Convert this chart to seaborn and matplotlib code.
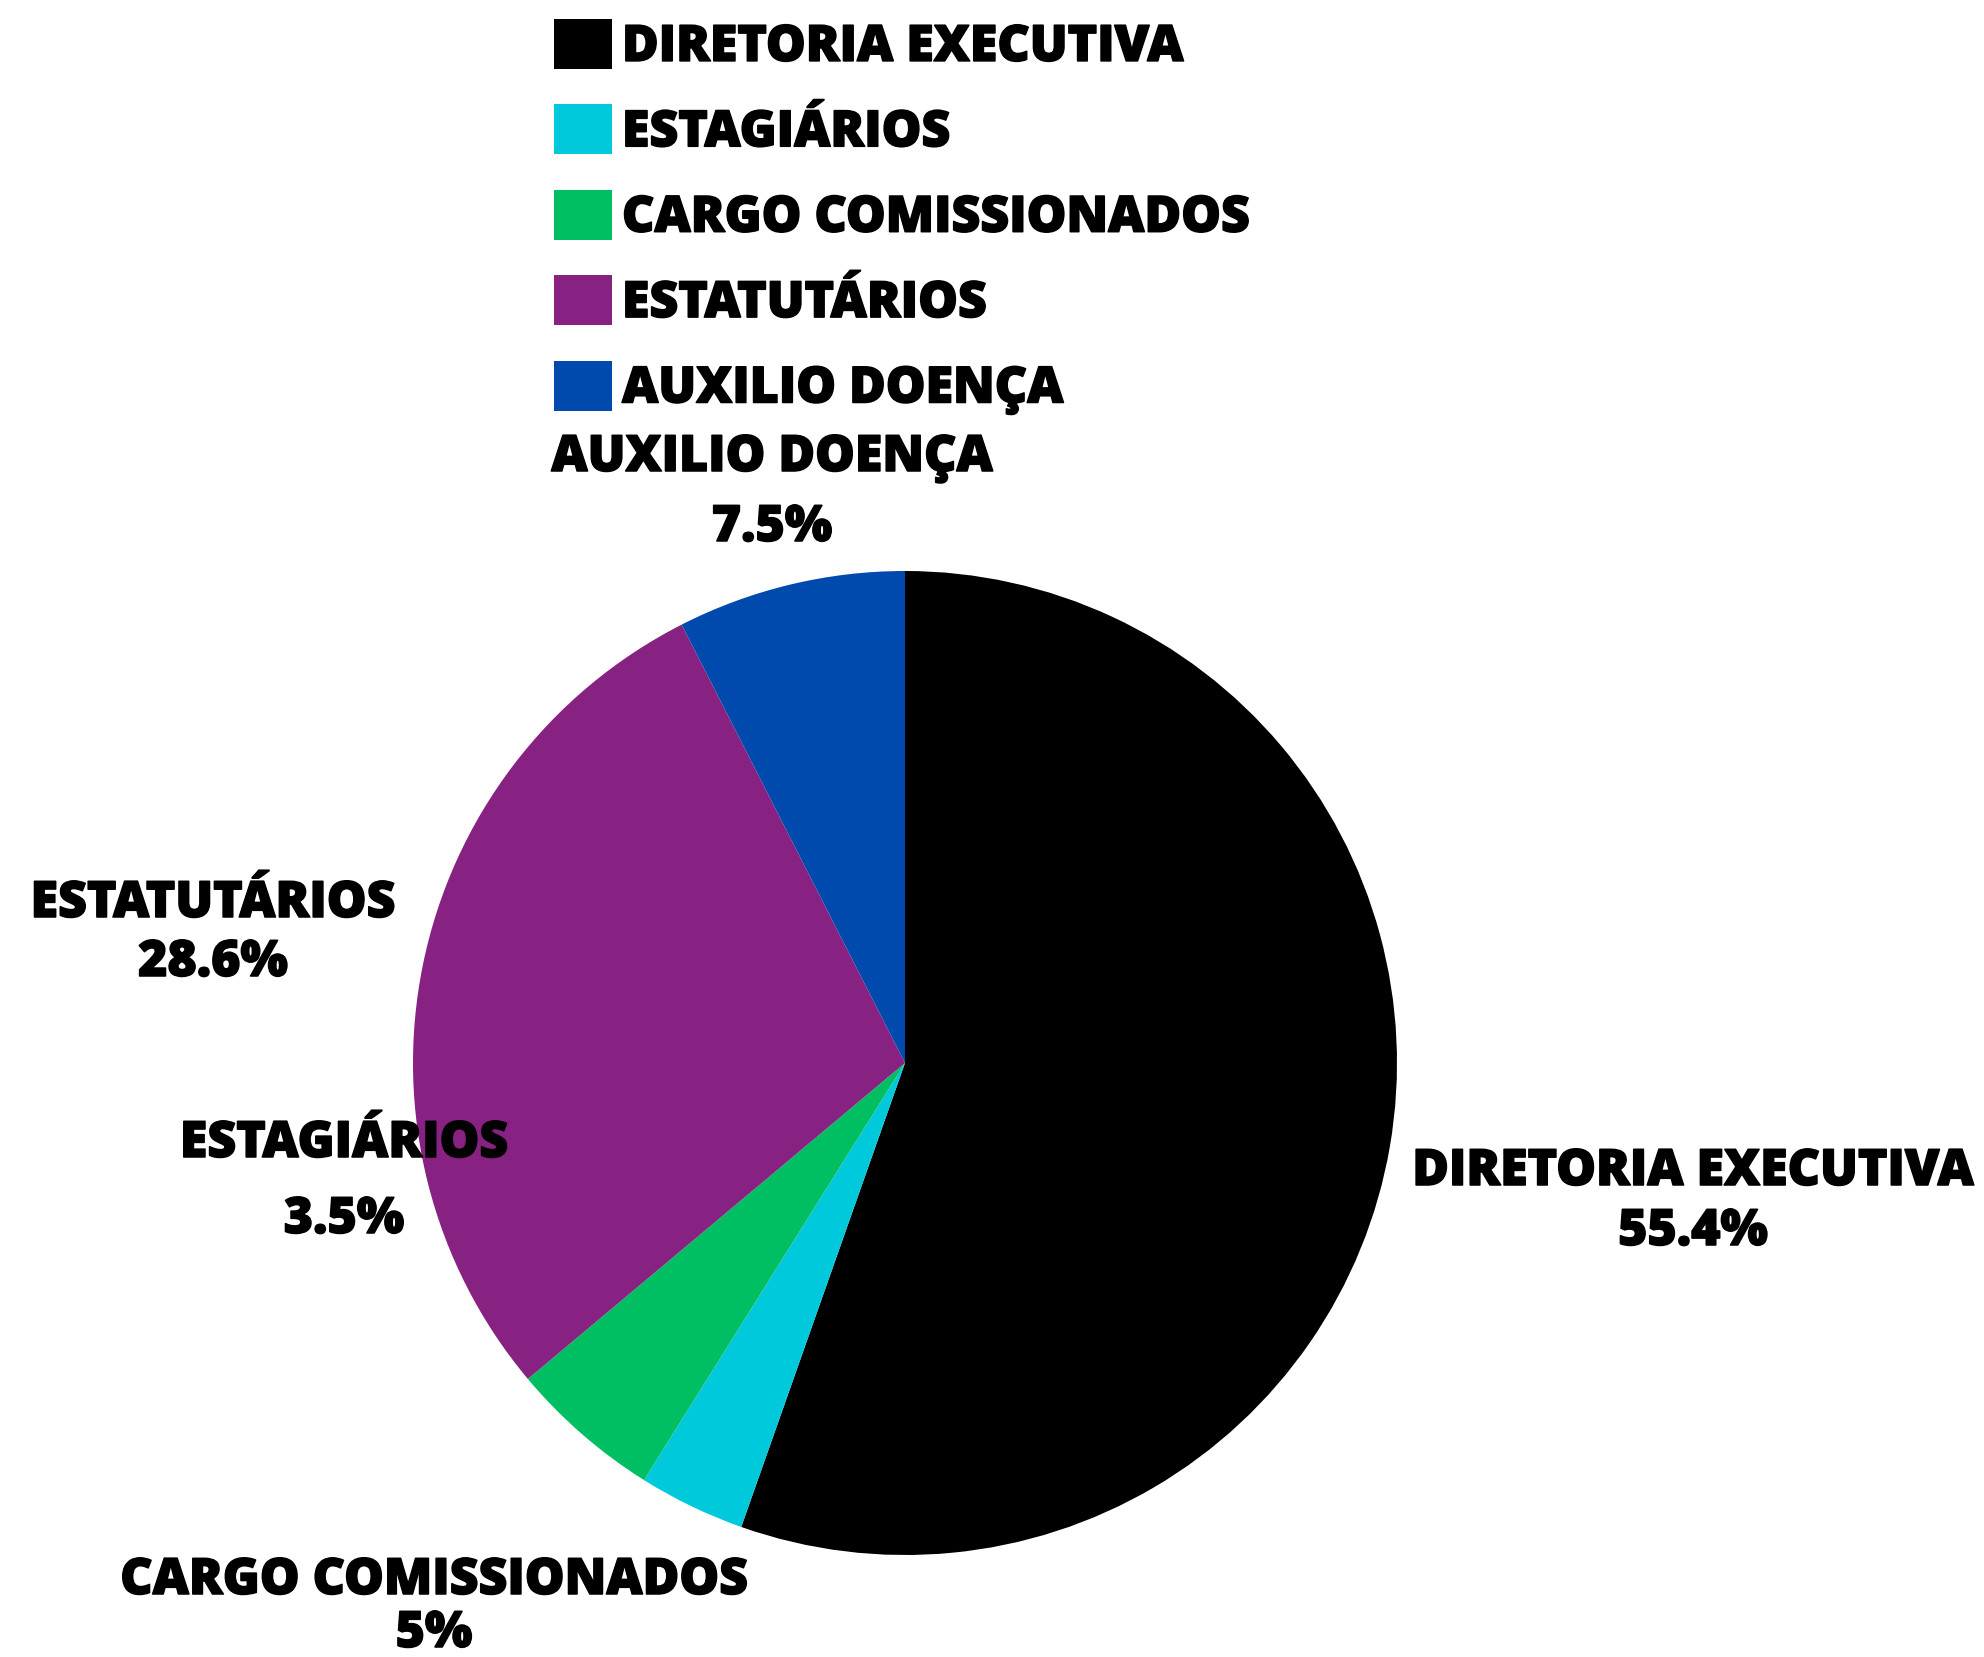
import matplotlib
matplotlib.use("Agg")
import matplotlib.pyplot as plt
import matplotlib.patheffects as pe
from matplotlib.patches import Patch
import seaborn as sns

# data
categorias = ["DIRETORIA EXECUTIVA", "ESTAGIÁRIOS", "CARGO COMISSIONADOS",
              "ESTATUTÁRIOS", "AUXILIO DOENÇA"]
valores = [55.4, 3.5, 5, 28.6, 7.5]
rotulos_pct = ["55.4%", "3.5%", "5%", "28.6%", "7.5%"]
cores = ["#000000", "#00C9DC", "#00BF63", "#872282", "#004AAD"]

sns.set_theme(style="white")
plt.rcParams["font.family"] = ["Open Sans", "DejaVu Sans"]
plt.rcParams["font.weight"] = "heavy"
plt.rcParams["text.color"] = "black"

W, H = 1984, 1657
fig = plt.figure(figsize=(W / 100, H / 100), dpi=100)

# pie axes, center (905, 1063) px, radius 492 px
cx, cy, r = 905, 1063, 492
ax = fig.add_axes([(cx - r) / W, (H - cy - r) / H, 2 * r / W, 2 * r / H])
pal = sns.color_palette(cores)
ax.pie(valores, colors=pal, startangle=90, counterclock=False,
       wedgeprops=dict(linewidth=0))
ax.set_xlim(-1, 1)
ax.set_ylim(-1, 1)
ax.set_aspect("equal")
ax.axis("off")

grosso = [pe.withStroke(linewidth=1.1, foreground="black")]

# labels (pixel positions of name / percent)
pos = [(1693, 1172, 1232), (344, 1144, 1220), (434, 1581, 1634),
       (213, 904, 963), (772, 458, 528)]
for nome, pct, (x, y1, y2) in zip(categorias, rotulos_pct, pos):
    fig.text(x / W, 1 - y1 / H, nome, ha="center", va="center",
             fontsize=36, fontweight="heavy", color="black", path_effects=grosso)
    fig.text(x / W, 1 - y2 / H, pct, ha="center", va="center",
             fontsize=36, fontweight="heavy", color="black", path_effects=grosso)

# legend
handles = [Patch(facecolor=c, edgecolor="none") for c in pal]
leg = fig.legend(handles, categorias, loc="upper left",
                 bbox_to_anchor=(554 / W, 1 - 19 / H), frameon=False,
                 handlelength=1.16, handleheight=1.16,
                 handletextpad=0.2, labelspacing=0.63, borderpad=0,
                 borderaxespad=0, prop=dict(weight="heavy", size=36))
for t in leg.get_texts():
    t.set_color("black")
    t.set_path_effects(grosso)

fig.savefig("out.png", dpi=100, facecolor="white")
